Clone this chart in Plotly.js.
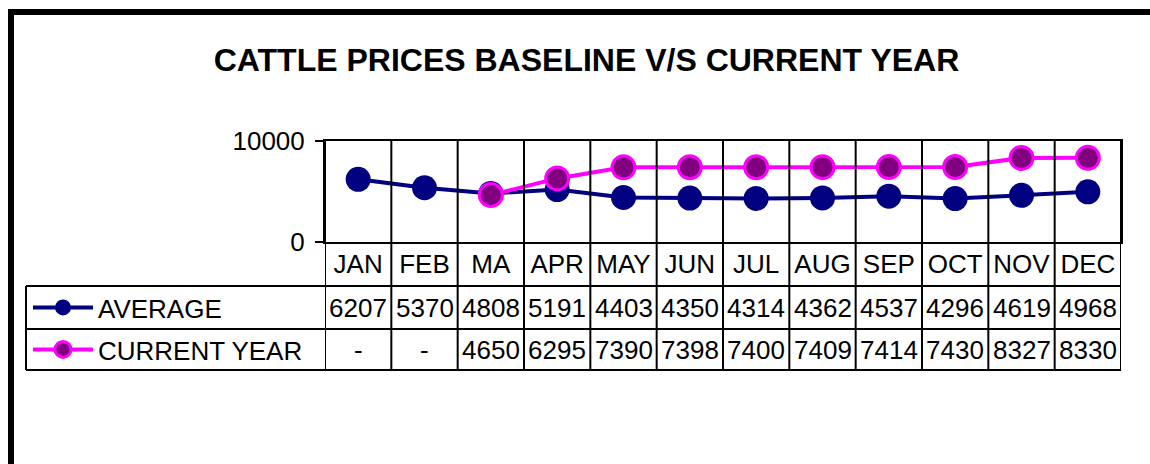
<!DOCTYPE html>
<html>
<head>
<meta charset="utf-8">
<script src="https://cdn.plot.ly/plotly-3.0.1.min.js"></script>
<style>
  html, body { margin: 0; padding: 0; background: #fff; }
  #chart { width: 1150px; height: 464px; }
</style>
</head>
<body>
<div id="chart"></div>
<script>
// ---- data ----
const months = ['JAN','FEB','MA','APR','MAY','JUN','JUL','AUG','SEP','OCT','NOV','DEC'];
const averageValues = [6207,5370,4808,5191,4403,4350,4314,4362,4537,4296,4619,4968];
const currentYearValues = [null,null,4650,6295,7390,7398,7400,7409,7414,7430,8327,8330];
const seriesNames = ['AVERAGE','CURRENT YEAR'];
const yTickValues = [0, 10000];
const chartTitle = 'CATTLE PRICES BASELINE V/S CURRENT YEAR';

// ---- layout geometry (pixels) ----
const W = 1150, H = 464;
const L = 325, R = 1121, T = 141, B = 242;
const PW = R - L, PH = B - T;
const px2x = px => (px - L) / PW;
const py2y = py => (B - py) / PH;
const rowLines = [286, 329, 370];   // table horizontal lines
const tableLeft = 26;
const FONT = 'Liberation Sans, Arial, sans-serif';

const traces = [
  {
    type: 'scatter', mode: 'lines+markers', name: seriesNames[0],
    x: months, y: averageValues,
    line: {color: '#000080', width: 4},
    marker: {color: '#000080', size: 25},
    legend: 'legend', cliponaxis: false
  },
  {
    type: 'scatter', mode: 'lines+markers', name: seriesNames[1],
    x: months, y: currentYearValues,
    line: {color: '#FF00FF', width: 4},
    marker: {color: '#800080', size: 23, line: {color: '#FF00FF', width: 3}},
    legend: 'legend2', cliponaxis: false
  }
];

const shapes = [];
const lineStyle = {color: '#000', width: 2};
// vertical column boundaries through plot and table
for (let i = 0; i <= months.length; i++) {
  shapes.push({type: 'line', xref: 'x', yref: 'paper', x0: i - 0.5, x1: i - 0.5,
               y0: py2y(rowLines[2]), y1: 1, line: lineStyle, layer: 'above'});
}
// horizontal table lines
rowLines.forEach(py => shapes.push({type: 'line', xref: 'paper', yref: 'paper',
  x0: px2x(tableLeft), x1: 1, y0: py2y(py), y1: py2y(py), line: lineStyle}));
// left edge of legend column
shapes.push({type: 'line', xref: 'paper', yref: 'paper', x0: px2x(tableLeft), x1: px2x(tableLeft),
  y0: py2y(rowLines[0]), y1: py2y(rowLines[2]), line: lineStyle});
// thick outer chart border (top and left)
shapes.push({type: 'rect', xref: 'paper', yref: 'paper', x0: px2x(8), x1: px2x(1152),
  y0: py2y(15), y1: py2y(9), fillcolor: '#000', line: {width: 0}});
shapes.push({type: 'rect', xref: 'paper', yref: 'paper', x0: px2x(8), x1: px2x(14),
  y0: py2y(466), y1: py2y(9), fillcolor: '#000', line: {width: 0}});

// data table cells
const annotations = [];
const row2y = py2y((rowLines[0] + rowLines[1]) / 2);
const row3y = py2y((rowLines[1] + rowLines[2]) / 2);
months.forEach((m, i) => {
  annotations.push({xref: 'x', yref: 'paper', x: m, y: row2y, showarrow: false,
    text: String(averageValues[i]), font: {family: FONT, size: 26, color: '#000'},
    xanchor: 'center', yanchor: 'middle'});
  annotations.push({xref: 'x', yref: 'paper', x: m, y: row3y, showarrow: false,
    text: currentYearValues[i] === null ? '-' : String(currentYearValues[i]),
    font: {family: FONT, size: 26, color: '#000'}, xanchor: 'center', yanchor: 'middle'});
});

const legendBase = {xref: 'paper', yref: 'paper', xanchor: 'left', yanchor: 'middle',
  bgcolor: 'rgba(0,0,0,0)', borderwidth: 0, font: {family: FONT, size: 26, color: '#000'},
  itemsizing: 'trace', itemwidth: 60};

const layout = {
  width: W, height: H,
  margin: {l: L, r: W - R, t: T, b: H - B, pad: 0},
  paper_bgcolor: '#fff', plot_bgcolor: '#fff',
  font: {family: FONT, color: '#000'},
  title: {text: chartTitle, xref: 'container', yref: 'container', x: 586.5 / W, y: 1 - 60 / H,
          xanchor: 'center', yanchor: 'middle',
          font: {family: FONT, size: 32, weight: 'bold', color: '#000'}},
  xaxis: {type: 'category', range: [-0.5, months.length - 0.5], showgrid: false, zeroline: false,
          showline: true, linecolor: '#000', linewidth: 2, mirror: true, ticks: '',
          tickfont: {family: FONT, size: 26, color: '#000'}, ticklabelstandoff: -2, fixedrange: true},
  yaxis: {range: [0, 10000], tickvals: yTickValues, ticktext: yTickValues.map(String),
          showgrid: false, zeroline: false, showline: true, linecolor: '#000', linewidth: 2, mirror: true,
          ticks: 'outside', ticklen: 8, tickwidth: 2, tickcolor: '#000',
          tickfont: {family: FONT, size: 26, color: '#000'}, ticklabelstandoff: 5, fixedrange: true},
  showlegend: true,
  legend: Object.assign({}, legendBase, {x: px2x(tableLeft + 2), y: row2y}),
  legend2: Object.assign({}, legendBase, {x: px2x(tableLeft + 2), y: row3y}),
  shapes: shapes,
  annotations: annotations
};

Plotly.newPlot('chart', traces, layout, {displayModeBar: false, staticPlot: true});
</script>
</body>
</html>
